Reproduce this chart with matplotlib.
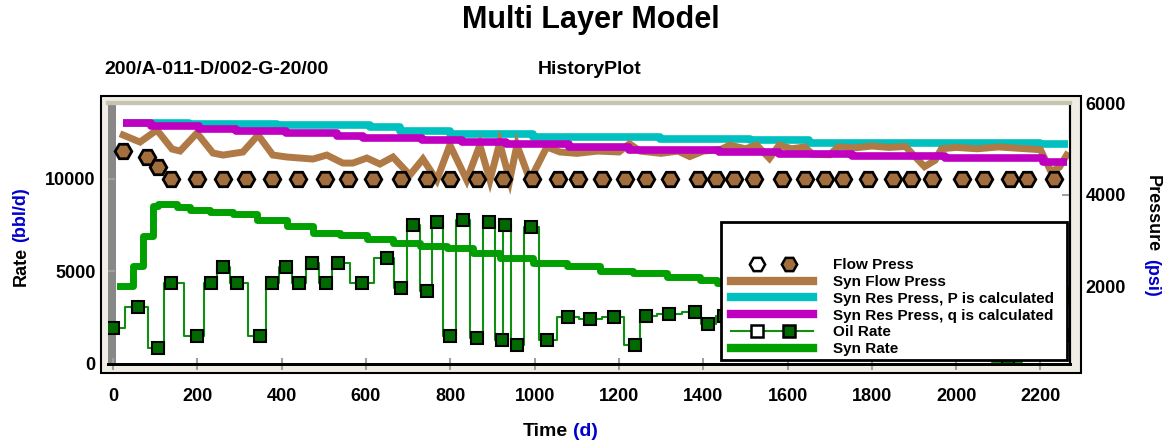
import matplotlib
matplotlib.use('Agg')
import matplotlib.pyplot as plt
from matplotlib.lines import Line2D
from matplotlib.patches import Rectangle

plt.rcParams['font.family'] = ['Liberation Sans', 'DejaVu Sans']
plt.rcParams['font.weight'] = 'bold'

# ---- data ----
# Flow Press (psi), measured
fp_t = [24, 80, 107, 137, 199, 261, 315, 377, 439, 503, 557, 617, 682, 744, 799, 863,
        925, 993, 1055, 1102, 1159, 1214, 1264, 1320, 1388, 1430, 1472, 1520, 1586, 1641,
        1688, 1731, 1790, 1849, 1894, 1942, 2013, 2067, 2127, 2169, 2233]
fp_p = [4951, 4820, 4600] + [4338] * 38

# Syn Flow Press (psi)
sfp_t = [24, 64, 104, 140, 159, 199, 237, 261, 308, 344, 379, 413, 474, 507, 545, 569,
         602, 633, 664, 704, 735, 768, 799, 839, 870, 894, 917, 941, 958, 989, 1029,
         1060, 1100, 1150, 1200, 1225, 1250, 1300, 1340, 1368, 1400, 1440, 1463, 1500,
         1527, 1557, 1580, 1610, 1640, 1660, 1700, 1720, 1760, 1800, 1840, 1880, 1900,
         1925, 1950, 1965, 2000, 2050, 2100, 2150, 2200, 2225, 2245, 2262]
sfp_p = [5300, 5147, 5410, 4994, 4951, 5344, 4907, 4863, 4929, 5300, 4863, 4820, 4776,
         4863, 4688, 4688, 4798, 4667, 4820, 4426, 4776, 4317, 5082, 4317, 5082, 4317,
         5126, 4317, 5082, 4317, 5040,
         4930, 4900, 4950, 4930, 5110, 4950, 4900, 4950, 4830, 4950, 4980, 5080, 5000,
         5080, 4790, 5080, 5000, 5040, 4880, 4870, 5040, 5020, 5060, 5030, 5050, 4850,
         4610, 4750, 5000, 5030, 5000, 5040, 5010, 4980, 4500, 4600, 4860]

# Syn Res Press, P is calculated (psi)
resp_t = [24, 180, 390, 610, 680, 800, 995, 1297, 1510, 1652, 2198, 2265]
resp_p = [5570, 5545, 5510, 5482, 5395, 5316, 5263, 5206, 5190, 5135, 5097, 5097]

# Syn Res Press, q is calculated (psi)
resq_t = [24, 90, 204, 292, 411, 531, 593, 733, 828, 932, 1082, 1223, 1437, 1580,
          1753, 1974, 2206, 2262]
resq_p = [5570, 5504, 5432, 5395, 5338, 5285, 5228, 5191, 5154, 5100, 5045, 4973,
          4935, 4885, 4841, 4791, 4717, 4717]

# Oil Rate (bbl/d)
oil_t = [0, 59, 107, 137, 199, 232, 261, 293, 348, 377, 410, 441, 472, 505, 533, 590,
         650, 683, 711, 744, 768, 799, 830, 863, 891, 922, 929, 958, 991, 1029, 1079,
         1131, 1188, 1238, 1264, 1318, 1380, 1411, 1450, 1500, 1560, 1620, 1680, 1740,
         1800, 1860, 1920, 1980, 2050, 2122, 2190, 2255, 2269]
oil_q = [1950, 3065, 860, 4350, 1500, 4350, 5220, 4350, 1500, 4350, 5220, 4350, 5480,
         4350, 5480, 4400, 5750, 4090, 7530, 3920, 7690, 1500, 7800, 1400, 7690, 1290,
         7530, 1020, 7420, 1290, 2530, 2420, 2530, 1020, 2580, 2690, 2800, 2150, 2600,
         2500, 2700, 2400, 2600, 2500, 2700, 2400, 2600, 2300, 2500, 100, 2600, 3820, 1560]

# Syn Rate (bbl/d)
syn_t = [17, 47, 71, 95, 107, 152, 183, 230, 284, 341, 412, 474, 538, 602, 664, 728,
         792, 853, 917, 995, 1076, 1155, 1233, 1313, 1392, 1432, 1520, 1620, 1720, 1820,
         1920, 2020, 2120, 2220, 2265]
syn_q = [4190, 5320, 6940, 8550, 8660, 8500, 8330, 8230, 8120, 7800, 7470, 7100, 6990,
         6770, 6560, 6400, 6240, 5970, 5750, 5480, 5320, 5050, 4890, 4680, 4520, 4350,
         4200, 4050, 3900, 3760, 3620, 3500, 3380, 3270, 3270]

x_ticks = list(range(0, 2201, 200))
rate_ticks = [0, 5000, 10000]
press_ticks = [2000, 4000, 6000]

BROWN = '#b07a46'
BROWN_FILL = '#a36e3e'
CYAN = '#00c0c0'
MAGENTA = '#c000c0'
GREEN = '#00a000'
OIL_LINE = '#109010'
OIL_FILL = '#006a00'
BLUE = '#0000cc'

W, H = 1170, 445


def fx(px):
    return px / W


def fy(py):
    return 1 - py / H


class PairHandler:
    # two markers (open + filled) with an optional line behind them
    def __init__(self, marker, ms, face, line=None):
        self.marker = marker
        self.ms = ms
        self.face = face
        self.line = line

    def legend_artist(self, legend, orig_handle, fontsize, handlebox):
        x0, y0 = handlebox.xdescent, handlebox.ydescent
        w, h = handlebox.width, handlebox.height
        tr = handlebox.get_transform()
        yc = y0 + h / 2
        art = None
        if self.line:
            art = Line2D([x0, x0 + w], [yc, yc], color=self.line, lw=1.5, transform=tr)
            handlebox.add_artist(art)
        for frac, fc in ((0.31, 'white'), (0.70, self.face)):
            art = Line2D([x0 + frac * w], [yc], marker=self.marker, ms=self.ms, mfc=fc,
                         mec='black', mew=1.8, ls='none', transform=tr)
            handlebox.add_artist(art)
        return art


fig = plt.figure(figsize=(W / 100, H / 100), dpi=100)

# outer beige frame
fig.patches.append(Rectangle((fx(101), fy(373)), fx(1081) - fx(101), fy(96) - fy(373),
                             transform=fig.transFigure, facecolor='#efede4',
                             edgecolor='black', lw=1.5, zorder=-1))

ax = fig.add_axes([fx(108), fy(364), fx(1070) - fx(108), fy(103) - fy(364)])
ax2 = ax.twinx()

# rates (left axis)
ax.axvspan(-12, 7, color='#888888', lw=0, zorder=0)
ax.plot(syn_t, syn_q, drawstyle='steps-post', color=GREEN, lw=5, zorder=2)
ax.plot(oil_t, oil_q, drawstyle='steps-mid', color=OIL_LINE, lw=1.5, marker='s', ms=8,
        mfc=OIL_FILL, mec='black', mew=1.5, zorder=3)

# pressures (right axis)
ax2.plot(resp_t, resp_p, drawstyle='steps-post', color=CYAN, lw=5.5, solid_capstyle='butt')
ax2.plot(sfp_t, sfp_p, color=BROWN, lw=5, solid_joinstyle='miter')
ax2.plot(resq_t, resq_p, drawstyle='steps-post', color=MAGENTA, lw=5.5, solid_capstyle='butt')
ax2.plot(fp_t, fp_p, ls='none', marker='H', ms=12, mfc=BROWN_FILL, mec='black', mew=2,
         zorder=4)

ax.set_xlim(-12, 2270)
ax.set_ylim(0, 14100)
ax2.set_ylim(300, 6000)
ax.set_xticks(x_ticks)
ax.set_yticks(rate_ticks)
ax2.set_yticks(press_ticks)

ax.tick_params(axis='x', direction='inout', length=8, width=1.5, color='#a0a0a0', pad=13,
               labelsize=13)
ax.tick_params(axis='y', direction='in', length=5, width=1.5, color='#a0a0a0', pad=9,
               labelsize=13)
ax2.tick_params(axis='y', direction='in', length=6, width=1.5, color='#a0a0a0', pad=11,
                labelsize=13)

for a in (ax, ax2):
    a.spines['left'].set_visible(False)
    a.spines['bottom'].set_color('black')
    a.spines['bottom'].set_linewidth(2)
    a.spines['right'].set_color('black')
    a.spines['right'].set_linewidth(1.5)
    a.spines['top'].set_color('#c8c4b2')
    a.spines['top'].set_linewidth(3)

# legend
ax2.add_patch(Rectangle((0.637, 0.015), 0.36, 0.529, transform=ax2.transAxes,
                        facecolor='white', edgecolor='black', lw=2, zorder=5))
h_fp = Line2D([], [])
h_oil = Line2D([], [])
handles = [h_fp,
           Line2D([], [], color=BROWN, lw=6),
           Line2D([], [], color=CYAN, lw=6),
           Line2D([], [], color=MAGENTA, lw=6),
           h_oil,
           Line2D([], [], color=GREEN, lw=6)]
labels = ['Flow Press', 'Syn Flow Press', 'Syn Res Press, P is calculated',
          'Syn Res Press, q is calculated', 'Oil Rate', 'Syn Rate']
leg = ax2.legend(handles, labels, loc='upper left', bbox_to_anchor=(0.6476, 0.405),
                 frameon=False, fontsize=11, handlelength=5.4, handletextpad=1.3,
                 labelspacing=0.18, borderpad=0, borderaxespad=0,
                 handler_map={h_fp: PairHandler('H', 11, BROWN_FILL),
                              h_oil: PairHandler('s', 8, OIL_FILL, OIL_LINE)})
leg.set_zorder(6)

# titles and axis labels
fig.text(fx(591), fy(20), 'Multi Layer Model', ha='center', va='center', fontsize=22)
fig.text(fx(104), fy(70), '200/A-011-D/002-G-20/00', ha='left', va='center', fontsize=14)
fig.text(fx(590), fy(70), 'HistoryPlot', ha='center', va='center', fontsize=14)

fig.text(fx(568), fy(431), 'Time', ha='right', va='center', fontsize=14)
fig.text(fx(573), fy(431), '(d)', ha='left', va='center', fontsize=14, color=BLUE)
fig.text(fx(21), fy(286), 'Rate', ha='center', va='bottom', fontsize=13, rotation=90)
fig.text(fx(21), fy(242), '(bbl/d)', ha='center', va='bottom', fontsize=13, rotation=90,
         color=BLUE)
fig.text(fx(1152), fy(175), 'Pressure', ha='center', va='top', fontsize=13, rotation=270)
fig.text(fx(1152), fy(259), '(psi)', ha='center', va='top', fontsize=13, rotation=270,
         color=BLUE)

fig.savefig('out.png', dpi=100)
